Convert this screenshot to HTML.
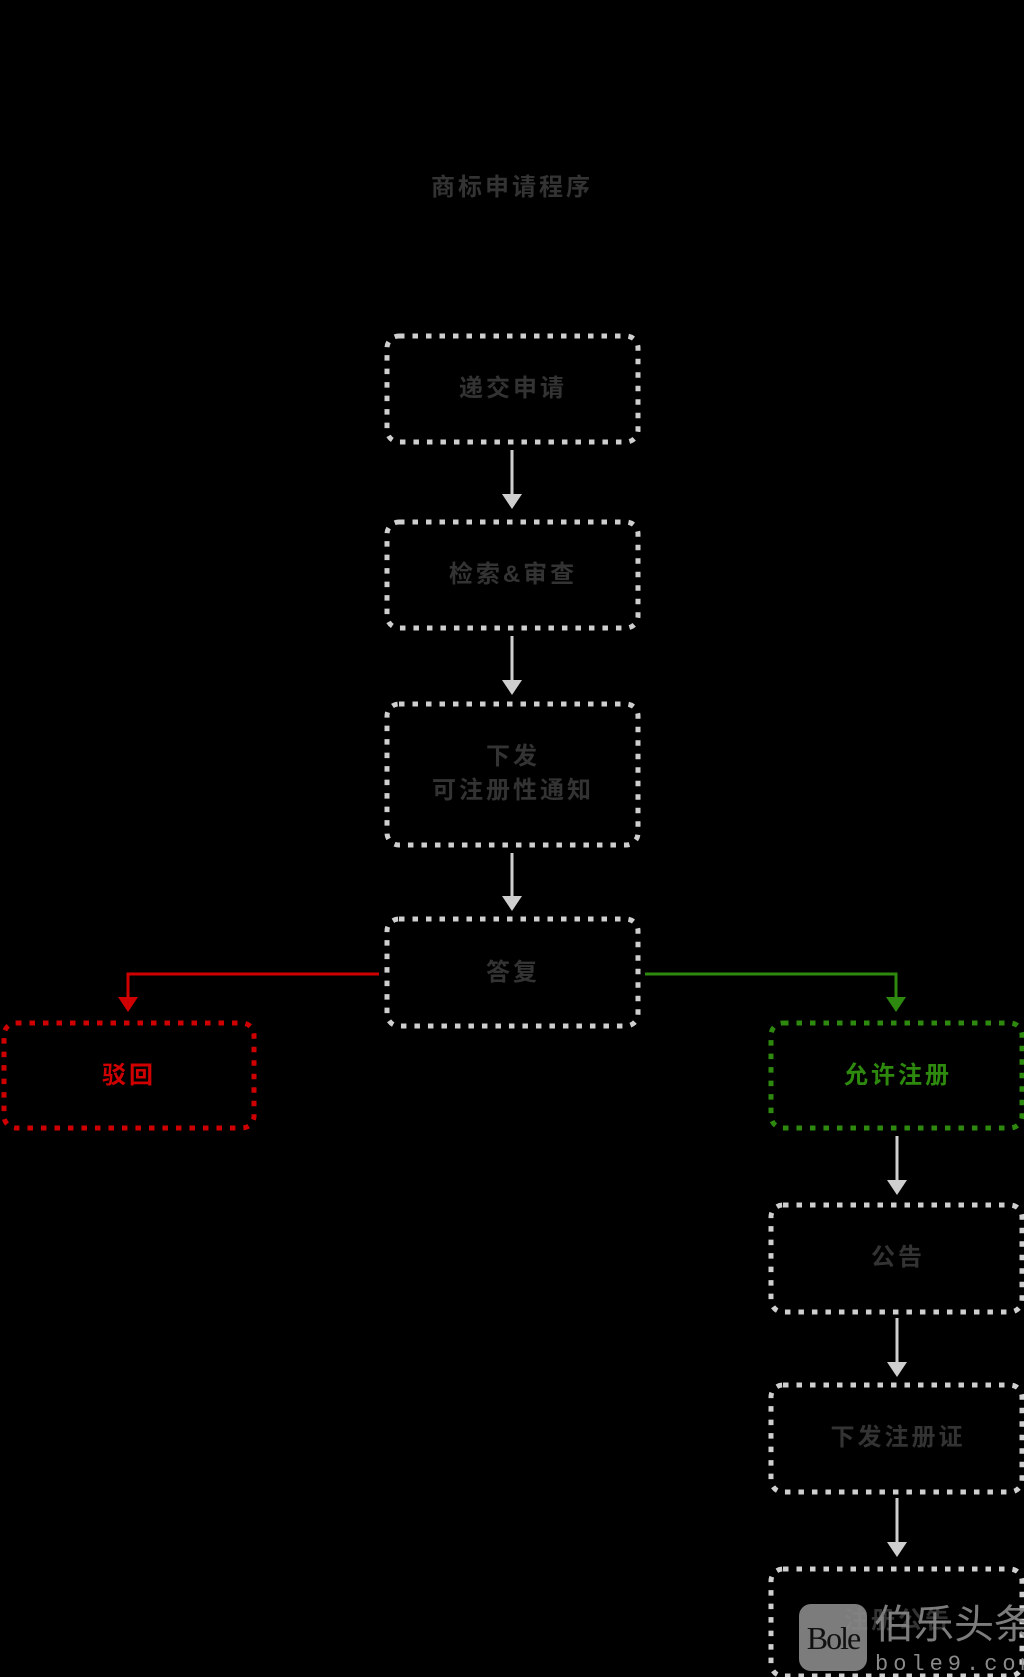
<!DOCTYPE html>
<html><head><meta charset="utf-8"><style>
html,body{margin:0;padding:0;background:#000;}
svg{display:block;}
text{font-family:"Liberation Sans","Noto Sans CJK SC",sans-serif;font-weight:bold;}
</style></head><body>
<svg width="1024" height="1677" viewBox="0 0 1024 1677" xmlns="http://www.w3.org/2000/svg">
<rect width="1024" height="1677" fill="#000"/>
<text x="512" y="195" font-size="24" fill="#333" text-anchor="middle" letter-spacing="3">商标申请程序</text>
<g fill="none" stroke="#cfcfcf" stroke-width="5" stroke-dasharray="5.5 8">
<rect x="387" y="336" width="251" height="106" rx="12"/>
<rect x="387" y="522" width="251" height="106" rx="12"/>
<rect x="387" y="704" width="251" height="141" rx="12"/>
<rect x="387" y="919" width="251" height="107" rx="12"/>
<rect x="771" y="1205" width="251" height="107" rx="12"/>
<rect x="771" y="1385" width="251" height="107" rx="12"/>
<rect x="771" y="1569" width="251" height="107" rx="12"/>
</g>
<rect x="4" y="1023" width="250" height="105" rx="12" fill="none" stroke="#d00000" stroke-width="5" stroke-dasharray="5.5 8"/>
<rect x="771" y="1023" width="251" height="105" rx="12" fill="none" stroke="#2e8a0e" stroke-width="5" stroke-dasharray="5.5 8"/>
<g stroke="#cfcfcf" stroke-width="3" fill="#cfcfcf">
<line x1="512" y1="450" x2="512" y2="496"/><polygon points="502,494 522,494 512,509" stroke="none"/>
<line x1="512" y1="636" x2="512" y2="682"/><polygon points="502,680 522,680 512,695" stroke="none"/>
<line x1="512" y1="853" x2="512" y2="898"/><polygon points="502,896 522,896 512,911" stroke="none"/>
<line x1="897" y1="1136" x2="897" y2="1182"/><polygon points="887,1180 907,1180 897,1195" stroke="none"/>
<line x1="897" y1="1318" x2="897" y2="1364"/><polygon points="887,1362 907,1362 897,1377" stroke="none"/>
<line x1="897" y1="1498" x2="897" y2="1544"/><polygon points="887,1542 907,1542 897,1557" stroke="none"/>
</g>
<polyline points="379,974 128,974 128,1000" fill="none" stroke="#d00000" stroke-width="3"/>
<polygon points="118,997 138,997 128,1012" fill="#d00000"/>
<polyline points="645,974 896,974 896,1000" fill="none" stroke="#2e8a0e" stroke-width="3"/>
<polygon points="886,997 906,997 896,1012" fill="#2e8a0e"/>
<g font-size="24" fill="#333" text-anchor="middle" letter-spacing="3">
<text x="513" y="396">递交申请</text>
<text x="513" y="582">检索&amp;审查</text>
<text x="513" y="764">下发</text>
<text x="513" y="798">可注册性通知</text>
<text x="513" y="980">答复</text>
<text x="898" y="1265">公告</text>
<text x="898" y="1445">下发注册证</text>
<text x="898" y="1628">注册公告</text>
<text x="129" y="1083" fill="#d00000">驳回</text>
<text x="898" y="1083" fill="#2e8a0e">允许注册</text>
</g>
<rect x="799" y="1604" width="68" height="67" rx="12" fill="#8a8a8a" opacity="0.9"/>
<text x="833" y="1649" style="font-family:'Liberation Serif',serif;font-weight:normal;letter-spacing:-2px" font-size="32" fill="#111" text-anchor="middle">Bole</text>
<text x="874" y="1638" style="font-weight:normal" font-size="40" fill="#8a8a8a" opacity="0.9">伯乐头条</text>
<text x="875" y="1670" style="font-family:'Liberation Mono',monospace;font-weight:normal" font-size="22" fill="#8a8a8a" letter-spacing="5">bole9.com</text>
</svg>
</body></html>
